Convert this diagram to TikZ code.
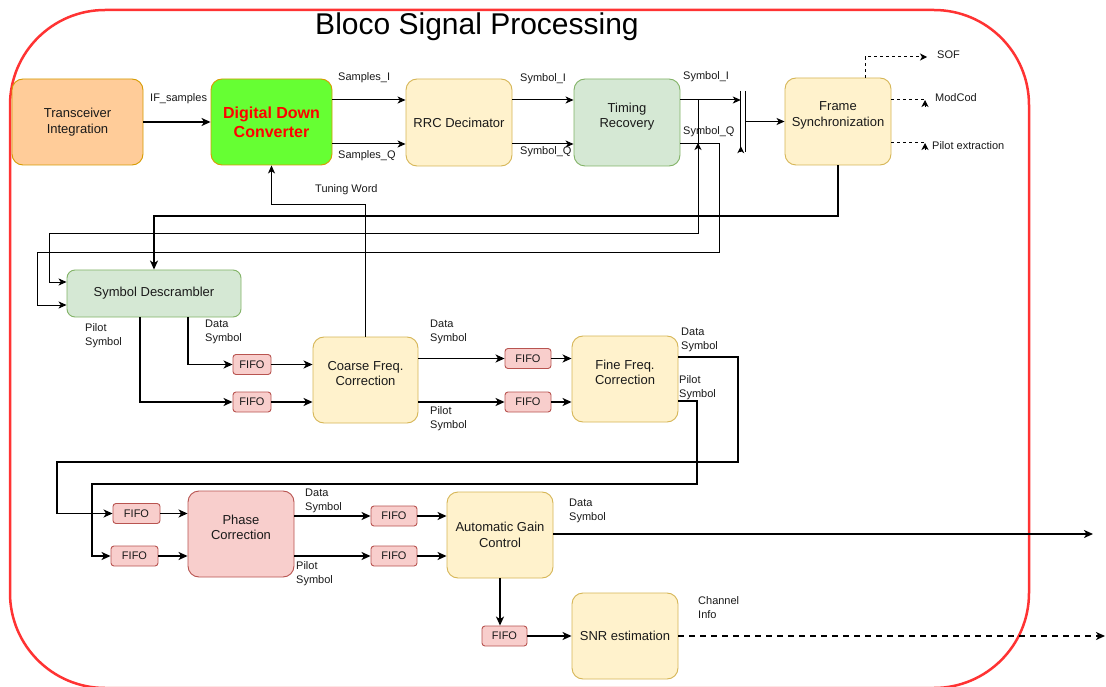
\documentclass[tikz,border=0pt]{standalone}
\usepackage{fontspec}
\setmainfont{Liberation Sans}
\usetikzlibrary{arrows.meta,calc}
\definecolor{orfill}{HTML}{FFCC99}
\definecolor{orline}{HTML}{D79B00}
\definecolor{ddcfill}{HTML}{66FF33}
\definecolor{yefill}{HTML}{FFF2CC}
\definecolor{yeline}{HTML}{D6B656}
\definecolor{grfill}{HTML}{D5E8D4}
\definecolor{grline}{HTML}{82B366}
\definecolor{rdfill}{HTML}{F8CECC}
\definecolor{rdline}{HTML}{B85450}
\definecolor{boxred}{HTML}{FF3333}
\definecolor{txt}{HTML}{1A1A1A}
\begin{document}
\begin{tikzpicture}[x=1pt,y=-1pt,
  blk/.style={draw, rounded corners=11pt, align=center, line width=0.9pt, text=txt,
    font=\fontsize{13}{15.5}\selectfont, inner sep=2pt},
  yel/.style={blk, fill=yefill, draw=yeline},
  grn/.style={blk, fill=grfill, draw=grline},
  fifo/.style={draw=rdline, fill=rdfill, rounded corners=3pt, line width=0.9pt,
    minimum width=46pt, minimum height=20pt, inner sep=0pt, text=txt,
    font=\fontsize{11}{13}\selectfont},
  lbl/.style={anchor=west, align=left, inner sep=0pt, text=txt,
    font=\fontsize{11}{14}\selectfont},
  thk/.style={line width=1.8pt, -{Stealth[length=9pt,width=8pt,inset=2.5pt]}},
  thn/.style={line width=1pt, -{Stealth[length=8pt,width=7pt,inset=2.2pt]}},
  dsh/.style={line width=1pt, dash pattern=on 3pt off 3pt},
  tip/.style={line width=1pt, -{Stealth[length=7pt,width=7pt,inset=2pt]}}
]
\useasboundingbox (0,0) rectangle (1106,687);
\fill[white] (0,0) rectangle (1106,687);

% container
\draw[boxred, line width=2.5pt, rounded corners=95pt] (10,10) rectangle (1029,688);
\node[font=\fontsize{30}{33}\selectfont, inner sep=0pt] (title) at (477,27) {Bloco Signal Processing};

% main blocks
\node[blk, fill=orfill, draw=orline, minimum width=131pt, minimum height=86pt] (trans) at (77.5,122) {Transceiver\\Integration};
\node[blk, fill=ddcfill, draw=orline, minimum width=121pt, minimum height=86pt,
  font=\fontsize{16}{19}\selectfont\bfseries, text=red] (ddc) at (271.5,122) {Digital Down\\Converter};
\node[yel, minimum width=106pt, minimum height=87pt] (rrc) at (459,122.5) {RRC Decimator};
\node[grn, minimum width=106pt, minimum height=87pt] (timing) at (627,122.5) {Timing\\Recovery\\[-1pt]};
\node[yel, minimum width=106pt, minimum height=87pt] (frame) at (838,121.5) {Frame\\Synchronization\\[-1pt]};
\node[grn, minimum width=174pt, minimum height=47pt, rounded corners=8pt] (desc) at (154,293.5) {Symbol Descrambler};
\node[yel, minimum width=105pt, minimum height=86pt] (coarse) at (365.5,380) {Coarse Freq.\\Correction\\[-2pt]};
\node[yel, minimum width=106pt, minimum height=86pt] (fine) at (625,379) {Fine Freq.\\Correction\\[-2pt]};
\node[blk, fill=rdfill, draw=rdline, minimum width=106pt, minimum height=86pt] (phase) at (241,534) {Phase\\Correction\\[-2pt]};
\node[yel, minimum width=106pt, minimum height=86pt] (agc) at (500,535) {Automatic Gain\\Control};
\node[yel, minimum width=106pt, minimum height=86pt] (snr) at (625,636) {SNR estimation};

% FIFOs
\node[fifo, minimum width=38pt] (f1) at (252,364.5) {FIFO};
\node[fifo, minimum width=38pt] (f2) at (252,402) {FIFO};
\node[fifo] (f3) at (528,358.5) {FIFO};
\node[fifo] (f4) at (528,402) {FIFO};
\node[fifo, minimum width=47pt] (f5) at (136.5,513.5) {FIFO};
\node[fifo, minimum width=47pt] (f6) at (134.5,556) {FIFO};
\node[fifo] (f7) at (394,516) {FIFO};
\node[fifo] (f8) at (394,556) {FIFO};
\node[fifo, minimum width=45pt] (f9) at (504.5,636) {FIFO};

% bar (combiner)
\node[minimum width=4pt, minimum height=61pt, inner sep=0pt] (bar) at (743,121.5) {};
\draw[line width=0.9pt] (bar.north west) -- (bar.south west);
\draw[line width=0.9pt] (bar.north east) -- (bar.south east);

% coordinates for free ends
\coordinate (sof) at (927,57);
\coordinate (modc) at (925,100);
\coordinate (pilx) at (925,143);
\coordinate (out1) at (1093,534);
\coordinate (out2) at (1105,636);
\coordinate (j1) at (698,100);

% connectors top row
\draw[thk] (trans.east) -- (ddc.west);
\node[lbl] at (150,99) {IF\_samples};
\draw[thn] (ddc.east |- 0,100) -- (rrc.west |- 0,100);
\draw[thn] (ddc.east |- 0,144) -- (rrc.west |- 0,144);
\node[lbl] at (338,78) {Samples\_I};
\node[lbl] at (338,156) {Samples\_Q};
\draw[thn] (rrc.east |- 0,100) -- (timing.west |- 0,100);
\draw[thn] (rrc.east |- 0,144) -- (timing.west |- 0,144);
\node[lbl] at (520,79) {Symbol\_I};
\node[lbl] at (520,152) {Symbol\_Q};
\draw[thn] (timing.east |- 0,100) -- (bar.west |- 0,100);
\node[lbl] at (683,77) {Symbol\_I};
\node[lbl] at (683,132) {Symbol\_Q};
\draw[tip] (bar.south west) -- ++(0,-6);
\draw[thn] (bar.east) -- (frame.west);

% frame sync outputs
\draw[dsh, -{Stealth[length=7pt,width=7pt,inset=2pt]}] ([xshift=27pt]frame.north) |- (sof);
\node[lbl] at (937,55) {SOF};
\draw[dsh] (frame.east |- modc) -- (modc);
\draw[tip] ([yshift=-7pt]modc) -- (modc);
\node[lbl] at (935,98) {ModCod};
\draw[dsh] (frame.east |- pilx) -- (pilx);
\draw[tip] ([yshift=-7pt]pilx) -- (pilx);
\node[lbl] at (932,146) {Pilot extraction};

% feedback to descrambler
\draw[thk] (frame.south) -- (frame.south |- 0,216) -| (desc.north);
\draw[thn] (j1) -- (698,234) -| (49,282) -- (desc.west |- 0,282);
\draw[tip] (698,160) -- (698,143);
\draw[thn] (timing.east |- 0,144) -- (719,144) -- (719,253) -| (37,305) -- (desc.west |- 0,305);

% tuning word
\draw[thn] (coarse.north) -- (coarse.north |- 0,205) -| (ddc.south);
\node[lbl] at (315,190) {Tuning Word};

% descrambler outputs
\draw[thk] ([xshift=34pt]desc.south) |- (f1.west);
\draw[thk] ([xshift=-14pt]desc.south) |- (f2.west);
\node[lbl] at (205,332) {Data\\Symbol};
\node[lbl] at (85,336) {Pilot\\Symbol};
\draw[thk] (f1.east) -- (coarse.west |- f1.east);
\draw[thk] (f2.east) -- (coarse.west |- f2.east);

% coarse outputs
\draw[thk] (coarse.east |- f3.west) -- (f3.west);
\draw[thk] (coarse.east |- f4.west) -- (f4.west);
\node[lbl] at (430,332) {Data\\Symbol};
\node[lbl] at (430,419) {Pilot\\Symbol};
\draw[thk] (f3.east) -- (fine.west |- f3.east);
\draw[thk] (f4.east) -- (fine.west |- f4.east);

% fine outputs
\draw[thk] (fine.east |- 0,357) -- (738,357) -- (738,462) -| (57,513.5) -- (f5.west);
\draw[thk] (fine.east |- 0,401) -- (697,401) -- (697,484) -| (92,556) -- (f6.west);
\node[lbl] at (681,340) {Data\\Symbol};
\node[lbl] at (679,388) {Pilot\\Symbol};
\draw[thk] (f5.east) -- (phase.west |- f5.east);
\draw[thk] (f6.east) -- (phase.west |- f6.east);

% phase outputs
\draw[thk] (phase.east |- f7.west) -- (f7.west);
\draw[thk] (phase.east |- f8.west) -- (f8.west);
\node[lbl] at (305,501) {Data\\Symbol};
\node[lbl] at (296,574) {Pilot\\Symbol};
\draw[thk] (f7.east) -- (agc.west |- f7.east);
\draw[thk] (f8.east) -- (agc.west |- f8.east);

% agc outputs
\draw[thk] (agc.east |- out1) -- (out1);
\node[lbl] at (569,511) {Data\\Symbol};
\draw[thk] (agc.south) -- (agc.south |- f9.north);
\draw[thk] (f9.east) -- (snr.west |- f9.east);
\draw[line width=1.8pt, dash pattern=on 6pt off 5pt, -{Stealth[length=9pt,width=8pt,inset=2.5pt]}] (snr.east) -- (out2);
\node[lbl] at (698,608) {Channel\\Info};
\end{tikzpicture}
\end{document}
